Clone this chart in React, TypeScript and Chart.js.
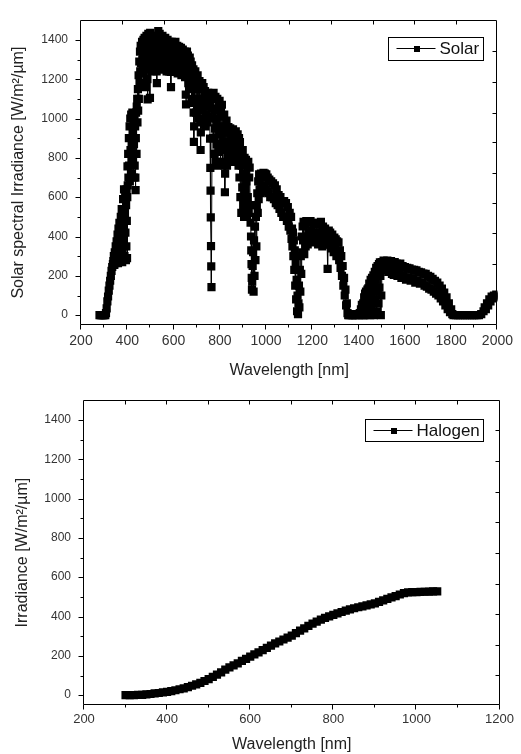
import React, { useEffect, useRef } from "react";
import { Chart, registerables } from "chart.js";

Chart.register(...registerables);

// ---------------- Data ----------------
// Solar spectrum, [wavelength nm, irradiance W/m²/µm]
const solarUltraviolet: [number, number][] = [
  [280, 0], [285, 0], [290, 0], [295, 0], [300, 0], [305, 0], [308, 10], [311, 35], [314, 70], [317, 95],
  [320, 125], [323, 150], [326, 175], [329, 200], [332, 225], [335, 245], [338, 260],
  [340, 275], [342, 300], [344, 255], [346, 320], [348, 265], [350, 350], [352, 280], [354, 375], [356, 300],
  [358, 410], [360, 265], [362, 440], [364, 330], [366, 470], [368, 290], [370, 390], [372, 500], [374, 340],
  [376, 540], [378, 270], [380, 450], [382, 590], [384, 380], [386, 640], [388, 300], [390, 520], [391, 620],
  [392, 420], [394, 280], [395, 560], [396, 350], [397, 640], [398, 480], [399, 290], [400, 600],
];

const solarViolet: [number, number][] = [
  [401, 757], [402, 660], [404, 820], [405, 700], [407, 900], [408, 760], [410, 960], [411, 680], [413, 1000],
  [414, 840], [416, 720], [417, 1020], [419, 880], [420, 780], [422, 1030], [423, 940], [425, 800], [426, 1000],
  [428, 700], [429, 870], [431, 1020], [432, 760], [434, 960], [435, 699], [436, 636], [437, 900], [438, 1030],
  [440, 820], [441, 1060], [443, 1100], [444, 980], [446, 1150], [447, 1040], [449, 1220], [450, 1100],
  [452, 1290], [453, 1180], [455, 1340], [456, 1240], [458, 1370], [459, 1280], [461, 1350], [462, 1230],
  [464, 1390], [465, 1300], [467, 1360], [468, 1240], [470, 1400],
];

const solarVisible: [number, number][] = [
  [471, 1180], [473, 1330], [475, 1410], [477, 1250], [479, 1380], [481, 1160], [483, 1420], [485, 1300],
  [487, 1200], [488, 1097], [489, 1350], [491, 1430], [493, 1260], [495, 1390], [497, 1320], [498, 1105],
  [499, 1436], [501, 1280], [503, 1400], [505, 1340], [507, 1240], [509, 1420], [511, 1300], [513, 1380],
  [515, 1250], [517, 1410], [519, 1330], [521, 1270], [523, 1400], [525, 1350], [527, 1240], [528, 1180],
  [530, 1420], [532, 1300], [534, 1445], [536, 1370], [538, 1260], [540, 1430], [542, 1330], [544, 1400],
  [546, 1250], [548, 1380], [550, 1310], [552, 1420], [554, 1270], [556, 1360], [558, 1400], [560, 1250],
  [562, 1340], [564, 1410], [566, 1290], [568, 1380], [570, 1240], [572, 1350], [574, 1400], [576, 1280],
  [578, 1370], [580, 1240], [582, 1390], [584, 1320], [586, 1260], [588, 1237], [589, 1160], [590, 1300],
  [592, 1390], [594, 1340], [596, 1250], [598, 1380], [600, 1300], [602, 1240], [604, 1370], [606, 1320],
  [608, 1390], [610, 1260], [612, 1350], [614, 1300], [616, 1370], [618, 1230], [620, 1340], [622, 1280],
  [624, 1365], [626, 1240], [628, 1330], [630, 1290], [632, 1360], [634, 1220], [636, 1320], [638, 1270],
  [640, 1350], [642, 1230], [644, 1310], [646, 1260], [648, 1340], [650, 1210], [652, 1300], [653, 1122],
  [654, 1072], [656, 1280], [658, 1340],
];

const solarRed: [number, number][] = [
  [660, 1230], [662, 1320], [664, 1180], [666, 1300], [668, 1240], [670, 1310], [672, 1150], [674, 1290],
  [676, 1210], [678, 1100], [680, 1270], [682, 1180], [684, 1080], [686, 1250], [687, 1030], [688, 881],
  [689, 960], [690, 1200], [692, 1080], [694, 1240], [696, 1150], [698, 1030], [700, 1200], [702, 1100],
  [704, 1220], [706, 1050], [708, 1160], [710, 1000], [712, 1190], [714, 1080], [716, 980], [717, 840],
  [718, 930], [720, 1150], [722, 1040], [724, 1180], [726, 990], [728, 1100], [730, 1160], [732, 970],
  [734, 1060], [736, 1140], [738, 960], [740, 1120], [742, 1020], [744, 1100], [746, 980], [748, 1090],
  [750, 1130], [752, 1010], [754, 1080], [756, 1000],
  [758, 898], [759, 749], [760, 633], [761, 497], [762, 351], [763, 248], [764, 143], [767, 1050],
];

const solarNearIR: [number, number][] = [
  [769, 1120], [771, 900], [773, 1130], [775, 820], [777, 1040], [779, 950], [781, 1110], [783, 780],
  [785, 1000], [787, 870], [789, 1100], [791, 760], [793, 960], [795, 1060], [797, 830], [799, 1090],
  [801, 920], [803, 770], [805, 1040], [807, 860], [809, 1070], [811, 950], [813, 780], [815, 1010],
  [817, 880], [819, 1020], [821, 760], [822, 625], [823, 720], [825, 960], [827, 840], [829, 990],
  [831, 760], [833, 930], [835, 870], [837, 956], [839, 800],
  [841, 930], [843, 820], [845, 950], [847, 860], [849, 790], [851, 940], [853, 880], [855, 800],
  [857, 945], [859, 850], [861, 780], [863, 920], [865, 870], [867, 800], [869, 935], [871, 850],
  [873, 900], [875, 790], [877, 920], [879, 830], [881, 760], [883, 900], [885, 700], [887, 880],
  [889, 600], [891, 820], [893, 520], [895, 760], [897, 650], [899, 840], [901, 560], [903, 720],
  [905, 500], [907, 800], [909, 620], [911, 540], [913, 790], [915, 680], [917, 510], [919, 760],
  [921, 600], [923, 780], [925, 520], [927, 700], [929, 750], [931, 560],
  [933, 470], [935, 400], [936, 330], [937, 260], [938, 190], [939, 130], [940, 170], [942, 250],
  [944, 320], [946, 120], [948, 380], [950, 200], [952, 450], [954, 280], [956, 500], [958, 350],
  [960, 560], [962, 620], [964, 520], [966, 680], [968, 590], [970, 716], [972, 640], [974, 700],
  [976, 620], [978, 720], [980, 650], [983, 710], [986, 630], [989, 724], [992, 660], [995, 720],
  [998, 640], [1001, 716], [1004, 630], [1007, 700], [1010, 620], [1014, 690], [1018, 600], [1022, 680],
  [1026, 600], [1030, 670], [1034, 590], [1038, 660], [1042, 570], [1046, 640], [1050, 560], [1054, 610],
  [1058, 540], [1062, 600], [1066, 520], [1070, 580], [1074, 500], [1078, 580], [1082, 500], [1086, 570],
  [1090, 480], [1094, 550], [1098, 450], [1102, 520], [1105, 430], [1108, 500],
];

const solarWaterBands: [number, number][] = [
  [1110, 388], [1112, 440], [1114, 350], [1116, 420], [1118, 300], [1120, 380], [1122, 230], [1124, 330],
  [1126, 150], [1128, 260], [1130, 80], [1132, 180], [1134, 20], [1136, 100], [1138, 5], [1140, 60],
  [1142, 150], [1144, 40], [1146, 230], [1148, 120], [1150, 300], [1152, 210], [1154, 400], [1156, 320],
  [1158, 451], [1160, 380], [1162, 475], [1165, 310], [1168, 460], [1171, 350], [1174, 478], [1177, 400],
  [1180, 360], [1183, 470], [1186, 420], [1189, 380], [1192, 478], [1195, 430], [1198, 390], [1201, 470],
  [1204, 410], [1207, 370], [1210, 465], [1213, 420], [1216, 380], [1219, 470], [1222, 400], [1225, 360],
  [1228, 460], [1231, 420], [1234, 370], [1237, 475], [1240, 400], [1243, 350], [1246, 450], [1249, 400],
  [1252, 360], [1255, 440], [1258, 390], [1261, 420], [1264, 360], [1266, 235], [1268, 400], [1271, 430],
  [1274, 360], [1277, 420], [1280, 380], [1283, 340], [1286, 410], [1289, 370], [1292, 320], [1295, 395],
  [1298, 350], [1301, 385], [1304, 300], [1307, 375], [1310, 330], [1313, 370], [1316, 280], [1319, 330],
  [1322, 240], [1325, 300], [1328, 200], [1331, 250], [1334, 150], [1337, 190], [1340, 100], [1343, 130],
  [1346, 50], [1349, 60], [1352, 10], [1355, 0],
  [1360, 0], [1365, 5], [1370, 0], [1375, 0], [1380, 5], [1385, 0], [1390, 0], [1395, 5], [1400, 0],
  [1405, 10], [1410, 30], [1414, 53], [1417, 0],
  [1420, 60], [1422, 0], [1424, 90], [1426, 30], [1428, 110], [1430, 0], [1432, 120], [1434, 60],
  [1436, 10], [1438, 130], [1440, 70], [1442, 136], [1444, 20], [1446, 160], [1448, 90], [1450, 0],
  [1452, 180], [1454, 110], [1456, 40], [1458, 190], [1460, 130], [1462, 60], [1464, 202], [1466, 0],
  [1468, 150], [1470, 220], [1472, 80], [1474, 180], [1476, 240], [1478, 20], [1480, 120], [1482, 250],
  [1484, 200], [1486, 60], [1488, 260], [1490, 140], [1492, 268], [1494, 200], [1496, 0], [1498, 100],
  [1500, 270],
];

const solarShortwaveIR: [number, number][] = [
  [1504, 240], [1508, 277], [1512, 230], [1516, 275], [1520, 250], [1524, 278], [1528, 220], [1532, 270],
  [1536, 245], [1540, 275], [1544, 210], [1548, 265], [1552, 205], [1556, 270], [1560, 230], [1564, 262],
  [1568, 200], [1572, 255], [1576, 215], [1580, 262], [1585, 190], [1590, 250], [1595, 200], [1600, 245],
  [1605, 180], [1610, 240], [1615, 190], [1620, 238], [1625, 175], [1630, 232], [1635, 185], [1640, 230],
  [1645, 165], [1650, 228], [1655, 175], [1660, 220], [1665, 160], [1670, 218], [1675, 165], [1680, 212],
  [1685, 150], [1690, 210], [1695, 145], [1700, 200], [1705, 135], [1710, 195], [1715, 130], [1720, 185],
  [1725, 120], [1730, 175], [1735, 110], [1740, 165], [1745, 100], [1750, 150], [1755, 85], [1760, 135],
  [1765, 70], [1770, 115], [1775, 50], [1780, 90], [1785, 30], [1790, 60], [1795, 15], [1800, 30],
  [1805, 5], [1810, 0], [1820, 0], [1830, 0], [1840, 0], [1850, 0], [1860, 0], [1870, 0], [1880, 0],
  [1890, 0], [1900, 0], [1910, 0], [1920, 0], [1930, 5], [1940, 20], [1945, 40], [1950, 30], [1955, 60],
  [1960, 50], [1965, 80], [1970, 70], [1975, 95], [1980, 85], [1985, 100], [1990, 90], [1995, 105],
  [2000, 95],
];

// Halogen lamp spectrum
const halogenWavelengths = [
  300, 310, 320, 330, 340, 350, 360, 370, 380, 390, 400, 410, 420, 430, 440, 450, 460, 470, 480, 490,
  500, 510, 520, 530, 540, 550, 560, 570, 580, 590, 600, 610, 620, 630, 640, 650, 660, 670, 680, 690,
  700, 710, 720, 730, 740, 750, 760, 770, 780, 790, 800, 810, 820, 830, 840, 850, 860, 870, 880, 890,
  900, 910, 920, 930, 940, 950, 960, 970, 980, 990, 1000, 1010, 1020, 1030, 1040, 1050,
];
const halogenIrradiance = [
  0, 0, 0, 1, 2, 4, 6, 9, 11, 14, 17, 21, 25, 30, 35, 41, 48, 55, 63, 72,
  82, 93, 104, 116, 130, 141, 151, 162, 174, 185, 196, 207, 218, 229, 240, 252, 263, 273, 283, 293,
  303, 316, 328, 340, 352, 364, 374, 384, 393, 401, 408, 416, 423, 430, 436, 442, 447, 452, 457, 462,
  467, 474, 482, 490, 497, 504, 512, 519, 523, 524, 524, 525, 526, 527, 528, 528,
];

// Axis ticks / labels
const solarXTicks = [200, 400, 600, 800, 1000, 1200, 1400, 1600, 1800, 2000];
const solarXMinor = [300, 500, 700, 900, 1100, 1300, 1500, 1700, 1900];
const solarTopTicks = [382, 562, 743, 923, 1104, 1284, 1465, 1645, 1825];
const halogenXTicks = [200, 400, 600, 800, 1000, 1200];
const halogenXMinor = [300, 500, 700, 900, 1100];
const halogenTopTicks = [300, 400, 500, 600, 700, 800, 900, 1000, 1100];
const yTicks = [0, 200, 400, 600, 800, 1000, 1200, 1400];
const yMinor = [100, 300, 500, 700, 900, 1100, 1300];
const solarRightTicks = [104, 260, 417, 571, 725, 881, 1030, 1188, 1345];
const halogenRightTicks = [103, 256, 413, 567, 722, 879, 1035, 1193, 1350];

// ---------------- Helpers ----------------
const FONT = '"Liberation Sans", Arial, Helvetica, sans-serif';

type TickSpec = {
  bottomMajor: number[];
  bottomMinor: number[];
  leftMajor: number[];
  leftMinor: number[];
  top: number[];
  right: number[];
};

function makeFramePlugin(spec: TickSpec) {
  return {
    id: "frameTicks",
    afterDraw(chart: any) {
      const { ctx, chartArea: ca, scales } = chart;
      const xs = scales.x;
      const ys = scales.y;
      const L = Math.round(ca.left) - 0.5;
      const R = Math.round(ca.right) - 0.5;
      const T = Math.round(ca.top) + 0.5;
      const B = Math.round(ca.bottom) - 0.5;
      ctx.save();
      ctx.strokeStyle = "#000";
      ctx.lineWidth = 1;
      ctx.beginPath();
      ctx.rect(L, T, R - L, B - T);
      const vt = (v: number, y0: number, y1: number) => {
        const p = Math.round(xs.getPixelForValue(v)) - 0.5;
        ctx.moveTo(p, y0);
        ctx.lineTo(p, y1);
      };
      const ht = (v: number, x0: number, x1: number) => {
        const p = Math.round(ys.getPixelForValue(v)) + 0.5;
        ctx.moveTo(x0, p);
        ctx.lineTo(x1, p);
      };
      spec.bottomMajor.forEach((v) => vt(v, B, B + 5));
      spec.bottomMinor.forEach((v) => vt(v, B, B + 3));
      spec.leftMajor.forEach((v) => ht(v, L - 5, L));
      spec.leftMinor.forEach((v) => ht(v, L - 3, L));
      spec.top.forEach((v) => vt(v, T, T + 4));
      spec.right.forEach((v) => ht(v, R - 4, R));
      ctx.stroke();
      ctx.restore();
    },
  };
}

function makeLegendPlugin(text: string, offRight: number, offTop: number, h: number) {
  return {
    id: "boxLegend",
    afterDraw(chart: any) {
      const { ctx, chartArea: ca } = chart;
      ctx.save();
      ctx.font = `17px ${FONT}`;
      const tw = ctx.measureText(text).width;
      const w = Math.round(51 + tw + 4);
      const x1 = Math.round(ca.right - offRight - w) + 0.5;
      const y1 = Math.round(ca.top + offTop) + 0.5;
      ctx.fillStyle = "#fff";
      ctx.fillRect(x1, y1, w, h);
      ctx.strokeStyle = "#000";
      ctx.lineWidth = 1;
      ctx.strokeRect(x1, y1, w, h);
      const cy = Math.round(y1 + h / 2) - 0.5;
      ctx.beginPath();
      ctx.moveTo(x1 + 8, cy);
      ctx.lineTo(x1 + 47, cy);
      ctx.stroke();
      ctx.fillStyle = "#000";
      ctx.fillRect(Math.round(x1 + 28 - 3), Math.round(cy - 3), 6, 6);
      ctx.fillStyle = "#111";
      ctx.textBaseline = "middle";
      ctx.textAlign = "left";
      ctx.fillText(text, x1 + 51, cy + 1);
      ctx.restore();
    },
  };
}

type ChartSpec = {
  label: string;
  points: { x: number; y: number }[];
  xMin: number;
  xMax: number;
  xTicks: number[];
  xTickFont: number;
  xTickPad: number;
  yTitle: string;
  yTitlePad: number;
  xTitlePad: number;
  padTop: number;
  yWidth: number;
  xHeight: number;
  ticks: TickSpec;
  legend: [number, number, number];
};

function buildConfig(s: ChartSpec): any {
  return {
    type: "scatter",
    data: {
      datasets: [
        {
          label: s.label,
          data: s.points,
          showLine: true,
          borderColor: "#000",
          borderWidth: 1,
          pointStyle: "rect",
          pointRadius: 5.8,
          pointHoverRadius: 5.8,
          pointBackgroundColor: "#000",
          pointBorderColor: "#000",
          pointBorderWidth: 0,
          tension: 0,
        },
      ],
    },
    options: {
      animation: false,
      responsive: false,
      maintainAspectRatio: false,
      devicePixelRatio: 1,
      events: [],
      layout: { padding: { top: s.padTop, right: 14, left: 0, bottom: 0 } },
      plugins: {
        legend: { display: false },
        tooltip: { enabled: false },
        title: { display: false },
      },
      scales: {
        x: {
          type: "linear",
          min: s.xMin,
          max: s.xMax,
          grid: { display: false, drawTicks: false },
          border: { display: false },
          afterBuildTicks: (scale: any) => {
            scale.ticks = s.xTicks.map((v) => ({ value: v }));
          },
          afterFit: (scale: any) => {
            scale.height = s.xHeight;
          },
          ticks: {
            autoSkip: false,
            maxRotation: 0,
            padding: s.xTickPad,
            color: "#333",
            font: { family: FONT, size: s.xTickFont },
            callback: (v: any) => String(v),
          },
          title: {
            display: true,
            text: "Wavelength [nm]",
            color: "#222",
            font: { family: FONT, size: 16, lineHeight: 1 },
            padding: { top: 0, bottom: s.xTitlePad },
          },
        },
        y: {
          type: "linear",
          min: -50,
          max: 1500,
          grid: { display: false, drawTicks: false },
          border: { display: false },
          afterBuildTicks: (scale: any) => {
            scale.ticks = yTicks.map((v) => ({ value: v }));
          },
          afterFit: (scale: any) => {
            scale.width = s.yWidth;
          },
          ticks: {
            autoSkip: false,
            padding: 13,
            color: "#333",
            font: { family: FONT, size: 12 },
            callback: (v: any) => String(v),
          },
          title: {
            display: true,
            text: s.yTitle,
            color: "#222",
            font: { family: FONT, size: 16, lineHeight: 1 },
            padding: { top: s.yTitlePad, bottom: 0 },
          },
        },
      },
    },
    plugins: [makeFramePlugin(s.ticks), makeLegendPlugin(s.label, s.legend[0], s.legend[1], s.legend[2])],
  };
}

const solarPoints = [
  ...solarUltraviolet,
  ...solarViolet,
  ...solarVisible,
  ...solarRed,
  ...solarNearIR,
  ...solarWaterBands,
  ...solarShortwaveIR,
].map(([x, y]) => ({ x, y }));

const halogenPoints = halogenWavelengths.map((x, i) => ({ x, y: halogenIrradiance[i] }));

export default function App() {
  const topRef = useRef<HTMLCanvasElement | null>(null);
  const botRef = useRef<HTMLCanvasElement | null>(null);

  useEffect(() => {
    const charts: Chart[] = [];
    if (topRef.current) {
      charts.push(
        new Chart(
          topRef.current,
          buildConfig({
            label: "Solar",
            points: solarPoints,
            xMin: 200,
            xMax: 2000,
            xTicks: solarXTicks,
            xTickFont: 14,
            xTickPad: 8,
            yTitle: "Solar spectral Irradiance [W/m\u00B2/\u00B5m]",
            yTitlePad: 11,
            xTitlePad: 1,
            padTop: 12,
            yWidth: 81,
            xHeight: 55,
            ticks: {
              bottomMajor: solarXTicks,
              bottomMinor: solarXMinor,
              leftMajor: yTicks,
              leftMinor: yMinor,
              top: solarTopTicks,
              right: solarRightTicks,
            },
            legend: [14, 17, 23],
          })
        )
      );
    }
    if (botRef.current) {
      charts.push(
        new Chart(
          botRef.current,
          buildConfig({
            label: "Halogen",
            points: halogenPoints,
            xMin: 200,
            xMax: 1200,
            xTicks: halogenXTicks,
            xTickFont: 13,
            xTickPad: 7,
            yTitle: "Irradiance [W/m\u00B2/\u00B5m]",
            yTitlePad: 15,
            xTitlePad: 1,
            padTop: 10,
            yWidth: 84,
            xHeight: 49,
            ticks: {
              bottomMajor: halogenXTicks,
              bottomMinor: halogenXMinor,
              leftMajor: yTicks,
              leftMinor: yMinor,
              top: halogenTopTicks,
              right: halogenRightTicks,
            },
            legend: [17, 19, 22],
          })
        )
      );
    }
    return () => {
      charts.forEach((c) => c.destroy());
    };
  }, []);

  return (
    <div
      style={{
        position: "absolute",
        left: 0,
        top: 0,
        width: 521,
        height: 754,
        background: "#fff",
        overflow: "hidden",
      }}
    >
      <canvas
        ref={topRef}
        width={521}
        height={380}
        style={{ position: "absolute", left: 0, top: 0, width: 521, height: 380 }}
      />
      <canvas
        ref={botRef}
        width={521}
        height={374}
        style={{ position: "absolute", left: 0, top: 380, width: 521, height: 374 }}
      />
    </div>
  );
}
